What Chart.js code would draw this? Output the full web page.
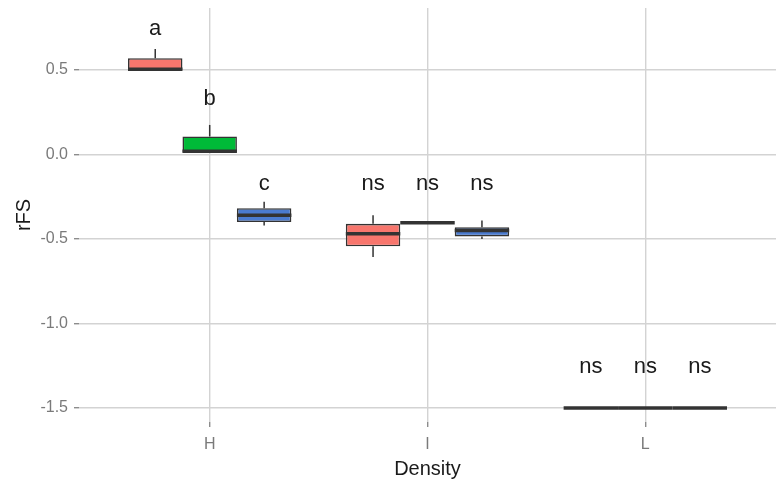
<!DOCTYPE html>
<html>
<head>
<meta charset="utf-8">
<script src="https://cdn.jsdelivr.net/npm/chart.js@4/dist/chart.umd.min.js"></script>
<style>
  html, body { margin: 0; padding: 0; background: #fff; }
  #wrap { width: 776px; height: 485px; }
</style>
</head>
<body>
<div id="wrap"><canvas id="myChart" width="776" height="485"></canvas></div>
<script>
// Densités (axe x) et positions des catégories
const densities = ['H', 'I', 'L'];
const groupPos = [1, 2, 3];
const yTicks = [0.5, 0.0, -0.5, -1.0, -1.5];

// Boîtes : moustache basse, Q1, médiane, Q3, moustache haute (une série par couleur)
const redLow  = [0.50, -0.607, -1.5];
const redQ1   = [0.50, -0.543, -1.5];
const redMed  = [0.505, -0.469, -1.5];
const redQ3   = [0.57, -0.41, -1.5];
const redHigh = [0.625, -0.36, -1.5];

const greenLow  = [0.012, -0.404, -1.5];
const greenQ1   = [0.012, -0.404, -1.5];
const greenMed  = [0.02, -0.404, -1.5];
const greenQ3   = [0.107, -0.404, -1.5];
const greenHigh = [0.175, -0.404, -1.5];

const blueLow  = [-0.42, -0.50, -1.5];
const blueQ1   = [-0.40, -0.485, -1.5];
const blueMed  = [-0.36, -0.45, -1.5];
const blueQ3   = [-0.318, -0.43, -1.5];
const blueHigh = [-0.28, -0.39, -1.5];

// Lettres de significativité
const redLabels   = ['a', 'ns', 'ns'];
const greenLabels = ['b', 'ns', 'ns'];
const blueLabels  = ['c', 'ns', 'ns'];
const redLabelY   = [0.753, -0.162, -1.249];
const greenLabelY = [0.341, -0.162, -1.249];
const blueLabelY  = [-0.162, -0.162, -1.249];

const series = [
  { color: '#F8766D', low: redLow, q1: redQ1, med: redMed, q3: redQ3, high: redHigh, text: redLabels, textY: redLabelY },
  { color: '#00BA38', low: greenLow, q1: greenQ1, med: greenMed, q3: greenQ3, high: greenHigh, text: greenLabels, textY: greenLabelY },
  { color: '#4a7bd0', low: blueLow, q1: blueQ1, med: blueMed, q3: blueQ3, high: blueHigh, text: blueLabels, textY: blueLabelY }
];

const FONT = "'Liberation Sans', Arial, sans-serif";

const data = {
  datasets: series.map(s => ({
    data: groupPos.map((p, i) => ({ x: p, y: [s.q1[i], s.q3[i]] })),
    backgroundColor: s.color,
    borderColor: '#333333',
    borderWidth: 1.6,
    borderSkipped: false,
    barPercentage: 1.0,
    categoryPercentage: 0.75
  }))
};

// Moustaches, médianes et lettres dessinées avec les échelles du graphique
const boxExtras = {
  id: 'boxExtras',
  afterDatasetsDraw(chart) {
    const ctx = chart.ctx;
    const y = chart.scales.y;
    ctx.save();
    series.forEach((s, d) => {
      const meta = chart.getDatasetMeta(d);
      meta.data.forEach((bar, i) => {
        const cx = bar.x;
        const half = bar.width / 2;
        ctx.strokeStyle = '#333333';
        ctx.lineWidth = 1.5;
        ctx.beginPath();
        ctx.moveTo(cx, y.getPixelForValue(s.q3[i]));
        ctx.lineTo(cx, y.getPixelForValue(s.high[i]));
        ctx.moveTo(cx, y.getPixelForValue(s.q1[i]));
        ctx.lineTo(cx, y.getPixelForValue(s.low[i]));
        ctx.stroke();
        ctx.lineWidth = 3.5;
        ctx.beginPath();
        const my = y.getPixelForValue(s.med[i]);
        ctx.moveTo(cx - half, my);
        ctx.lineTo(cx + half, my);
        ctx.stroke();

        ctx.fillStyle = '#1a1a1a';
        ctx.font = '22px ' + FONT;
        ctx.textAlign = 'center';
        ctx.textBaseline = 'alphabetic';
        ctx.fillText(s.text[i], cx, y.getPixelForValue(s.textY[i]) + 0.35 * 22);
      });
    });
    ctx.restore();
  }
};

const config = {
  type: 'bar',
  data,
  options: {
    responsive: false,
    animation: false,
    layout: { padding: { top: 8, right: 0, bottom: 0, left: 0 } },
    plugins: {
      legend: { display: false },
      tooltip: { enabled: false }
    },
    scales: {
      x: {
        type: 'linear',
        min: 0.4,
        max: 3.6,
        offset: false,
        afterBuildTicks: (scale) => { scale.ticks = groupPos.map(v => ({ value: v })); },
        afterFit: (scale) => { scale.height = 63; scale.paddingLeft = 0; scale.paddingRight = 0; },
        border: { display: false },
        grid: { offset: false, color: '#d3d3d3', lineWidth: 1.4, tickLength: 5, tickColor: '#8c8c8c' },
        ticks: {
          padding: 8,
          color: '#7a7a7a',
          font: { family: FONT, size: 16 },
          callback: (v) => densities[groupPos.indexOf(v)]
        },
        title: {
          display: true,
          text: 'Density',
          color: '#1a1a1a',
          font: { family: FONT, size: 20 },
          padding: { top: 0, bottom: 4 }
        }
      },
      y: {
        min: -1.583,
        max: 0.867,
        afterBuildTicks: (scale) => { scale.ticks = yTicks.map(v => ({ value: v })); },
        afterFit: (scale) => { scale.width = 79; scale.paddingTop = 0; scale.paddingBottom = 0; },
        border: { display: false },
        grid: { color: '#d3d3d3', lineWidth: 1.4, tickLength: 5, tickColor: '#8c8c8c' },
        ticks: {
          padding: 6,
          color: '#7a7a7a',
          font: { family: FONT, size: 16 },
          callback: (v) => v.toFixed(1)
        },
        title: {
          display: true,
          text: 'rFS',
          color: '#1a1a1a',
          font: { family: FONT, size: 20 },
          padding: { top: 12, bottom: 0 }
        }
      }
    }
  },
  plugins: [boxExtras]
};

const myChart = new Chart(document.getElementById('myChart'), config);
</script>
</body>
</html>
